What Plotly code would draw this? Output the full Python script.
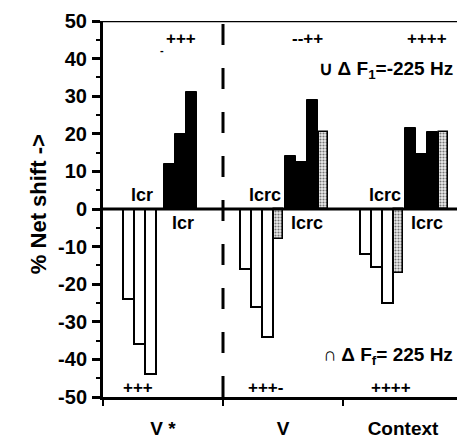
import plotly.graph_objects as go

# ---- data ----
categories = ["V *", "V", "Context"]
y_ticks = [50, 40, 30, 20, 10, 0, -10, -20, -30, -40, -50]

# negative (Delta F = +225 Hz) open bars, per category
neg_open = {
    "V *": [-24, -36, -44],
    "V": [-16, -26, -34],
    "Context": [-12, -15.5, -25],
}
# negative stippled bar (c)
neg_stip = {"V *": None, "V": -8, "Context": -17}

# positive (Delta F = -225 Hz) filled bars
pos_fill = {
    "V *": [12, 20, 31],
    "V": [14, 12.5, 29],
    "Context": [21.5, 14.5, 20.5],
}
pos_stip = {"V *": None, "V": 20.5, "Context": 20.5}

top_signs = {"V *": "+++", "V": "--++", "Context": "++++"}
bottom_signs = {"V *": "+++", "V": "+++-", "Context": "++++"}
upper_labels = {"V *": "lcr", "V": "lcrc", "Context": "lcrc"}
lower_labels = {"V *": "lcr", "V": "lcrc", "Context": "lcrc"}

# ---- layout helpers ----
PX = 120.0          # pixels per category unit
W = 11 / PX         # slot width
neg_start = {"V *": -40 / PX, "V": -43 / PX, "Context": -43 / PX}
pos_start = {"V *": 0.5 / PX, "V": 2 / PX, "Context": 2 / PX}

fig = go.Figure()

stip = dict(shape=".", fgcolor="black", bgcolor="#ececec", size=3, solidity=0.4)

for i, cat in enumerate(categories):
    c = i + 0.5
    vals = list(neg_open[cat])
    xs = [c + neg_start[cat] + W * (k + 0.5) for k in range(len(vals))]
    fig.add_bar(x=xs, y=vals, width=W * 0.98,
                marker=dict(color="white", line=dict(color="black", width=2)),
                showlegend=False, hoverinfo="skip")
    if neg_stip[cat] is not None:
        xk = c + neg_start[cat] + W * (len(vals) + 0.5)
        fig.add_bar(x=[xk], y=[neg_stip[cat]], width=W * 0.9,
                    marker=dict(color="white", line=dict(color="black", width=1.5), pattern=stip),
                    showlegend=False, hoverinfo="skip")
    vals = list(pos_fill[cat])
    xs = [c + pos_start[cat] + W * (k + 0.5) for k in range(len(vals))]
    fig.add_bar(x=xs, y=vals, width=W,
                marker=dict(color="black", line=dict(color="black", width=1)),
                showlegend=False, hoverinfo="skip")
    if pos_stip[cat] is not None:
        xk = c + pos_start[cat] + W * (len(vals) + 0.5)
        fig.add_bar(x=[xk], y=[pos_stip[cat]], width=W * 0.9,
                    marker=dict(color="white", line=dict(color="black", width=1.5), pattern=stip),
                    showlegend=False, hoverinfo="skip")

FONT = "Liberation Sans, Arial, sans-serif"


def f(size):
    return dict(size=size, family=FONT, color="black", weight="bold")


ann = []
upper_x = {"V *": 0.325, "V": 1.35, "Context": 2.35}
lower_x = {"V *": 0.667, "V": 1.70, "Context": 2.70}
top_x = {"V *": 0.65, "V": 1.708, "Context": 2.70}
bot_x = {"V *": 0.29, "V": 1.35, "Context": 2.40}
for cat in categories:
    ann.append(dict(x=upper_x[cat], y=0, yanchor="bottom", yshift=2, text=upper_labels[cat], font=f(18)))
    ann.append(dict(x=lower_x[cat], y=0, yanchor="top", yshift=-2, text=lower_labels[cat], font=f(18)))
    ann.append(dict(x=top_x[cat], y=45.3, text=top_signs[cat], font=f(17)))
    ann.append(dict(x=bot_x[cat], y=-47.4, text=bottom_signs[cat], font=f(17)))
ann.append(dict(x=0.49, y=42.3, text="-", font=f(11)))
ann.append(dict(x=2.93, y=36.9, xanchor="right", text="\u222a \u0394 F<sub>1</sub>=-225 Hz", font=f(19)))
ann.append(dict(x=2.93, y=-39, xanchor="right", text="\u2229 \u0394 F<sub>f</sub>= 225 Hz", font=f(19)))
for a in ann:
    a.update(xref="x", yref="y", showarrow=False)
# y-axis title as annotation for exact placement
ann.append(dict(xref="paper", yref="paper", x=-0.219, y=0.512, text="% Net shift ->",
                textangle=-90, showarrow=False, font=f(22)))

shapes = [
    dict(type="line", xref="x", yref="y", x0=0, x1=3, y0=0, y1=0,
         line=dict(color="black", width=3)),
    dict(type="line", xref="x", yref="y", x0=1, x1=1, y0=-50, y1=50,
         line=dict(color="black", width=3, dash="21px,23px")),
    dict(type="line", xref="x", yref="y", x0=3, x1=3, y0=-50, y1=0,
         line=dict(color="black", width=1.5)),
    dict(type="line", xref="x", yref="y", x0=0, x1=3, y0=50, y1=50,
         line=dict(color="black", width=2.5)),
]

# page has an 8px body margin, so the figure is sized to fit inside the 465x441 window
fig.update_layout(
    width=457, height=433,
    margin=dict(l=95, r=2, t=11, b=41),
    plot_bgcolor="white", paper_bgcolor="white",
    barmode="overlay", bargap=0,
    annotations=ann, shapes=shapes,
    font=dict(family=FONT, color="black"),
)
fig.update_xaxes(
    range=[0, 3], tickmode="array", tickvals=[0.5, 1.5, 2.5], ticktext=categories,
    ticks="", showgrid=False, zeroline=False,
    showline=True, linecolor="black", linewidth=3,
    tickfont=f(19), ticklabelstandoff=12,
    minor=dict(tick0=0, dtick=1, ticks="outside", ticklen=6, tickwidth=2, tickcolor="black"),
)
fig.update_yaxes(
    range=[-50, 50], tickmode="array", tickvals=y_ticks, ticktext=[str(v) for v in y_ticks],
    ticks="outside", ticklen=8, tickwidth=2.5, tickcolor="black",
    minor=dict(tick0=0, dtick=5, ticks="outside", ticklen=4, tickwidth=2, tickcolor="black"),
    showgrid=False, zeroline=False,
    showline=True, linecolor="black", linewidth=3,
    tickfont=f(20), ticklabelstandoff=1,
)

fig.write_html("out.html")
